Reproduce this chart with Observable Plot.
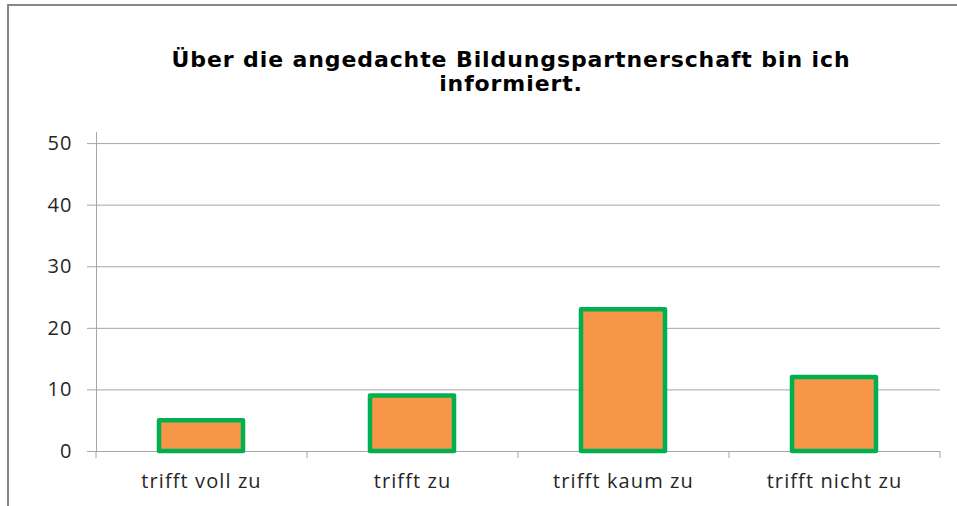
<!DOCTYPE html>
<html>
<head>
<meta charset="utf-8">
<script src="https://cdn.jsdelivr.net/npm/d3@7"></script>
<script src="https://cdn.jsdelivr.net/npm/@observablehq/plot@0.6"></script>
<style>
  html, body { margin: 0; padding: 0; background: #fff; }
  #wrap {
    position: absolute; left: 7px; top: 4px;
    width: 950px; height: 510px;
    border-top: 2px solid #878787; border-left: 2px solid #878787;
    overflow: hidden;
  }
  #title {
    height: 73px;
    padding-top: 42px;
    padding-left: 54px;
    text-align: center;
    font-family: "DejaVu Sans", sans-serif;
    font-weight: bold;
    font-size: 22px;
    letter-spacing: 0.9px;
    line-height: 24px;
    color: #000;
    box-sizing: content-box;
    white-space: nowrap;
  }
  #chart svg text { fill: #262626; letter-spacing: 1.1px; }
</style>
</head>
<body>
<div id="wrap">
  <div id="title">Über die angedachte Bildungspartnerschaft bin ich<br>informiert.</div>
  <div id="chart"></div>
</div>
<script>
const categories = ["trifft voll zu", "trifft zu", "trifft kaum zu", "trifft nicht zu"];
const values = [5, 9, 23, 12];
const yTicks = [0, 10, 20, 30, 40, 50];

const data = categories.map((c, i) => ({cat: c, val: values[i]}));
const gridColor = "#a6a6a6";

const chart = Plot.plot({
  width: 948,
  height: 385,
  marginLeft: 87,
  marginRight: 17,
  marginTop: 11,
  marginBottom: 55,
  style: {fontFamily: "'Open Sans', sans-serif", fontSize: "20px", color: gridColor, background: "transparent"},
  x: {domain: categories, paddingInner: 0.6, paddingOuter: 0.3, label: null},
  y: {domain: [0, 51.8], label: null},
  marks: [
    Plot.ruleY(yTicks, {stroke: gridColor, strokeWidth: 1}),
    Plot.axisY({ticks: yTicks, tickSize: 9, tickPadding: 15, label: null}),
    Plot.axisX({tickSize: 0, tickPadding: 22, label: null}),
    Plot.barY(data, {x: "cat", y: "val", fill: "#F79646", stroke: "#00B050", strokeWidth: 4.5, strokeLinejoin: "round"}),
    Plot.frame({anchor: "left", stroke: gridColor})
  ]
});
document.getElementById("chart").appendChild(chart);

// band-boundary tick marks on the category axis, from the library's x and y scales
const xs = chart.scale("x");
const ys = chart.scale("y");
const y0 = ys.apply(0);
const g = d3.select(chart).append("g").attr("stroke", gridColor);
for (let i = 0; i <= categories.length; i++) {
  const bx = xs.range[0] + i * xs.step;
  g.append("line").attr("x1", bx).attr("x2", bx).attr("y1", y0).attr("y2", y0 + 7);
}
</script>
</body>
</html>
